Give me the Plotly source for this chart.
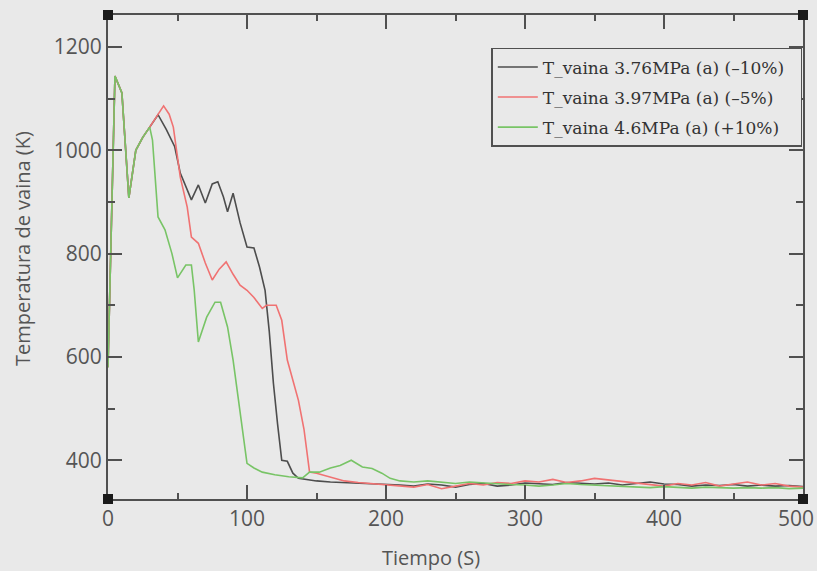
import plotly.graph_objects as go

# Tiempo (s) y temperatura de vaina (K)
t_376 = [0, 5, 10, 15, 20, 25, 30, 36, 42, 48, 52, 57, 60, 65, 70, 75, 79, 83, 86, 90,
         95, 100, 105, 109, 113, 116, 119, 122, 125, 129, 133, 137, 145,
         150, 160, 170, 180, 190, 200, 210, 220, 230, 240, 250, 260, 270, 280, 290, 300,
         310, 320, 330, 340, 350, 360, 370, 380, 390, 400, 410, 420, 430, 440, 450, 460,
         470, 480, 490, 500]
T_376 = [580, 1144, 1111, 908, 1000, 1025, 1045, 1069, 1040, 1007, 956, 925, 904, 933, 898, 935, 939, 910, 881, 917,
         860, 813, 811, 774, 729, 650, 549, 470, 400, 398, 375, 365, 362,
         360, 358, 357, 356, 355, 353, 352, 350, 354, 352, 348, 353, 355, 350, 352, 356,
         355, 353, 357, 355, 354, 356, 352, 355, 358, 354, 353, 350, 352, 351, 353, 350,
         352, 350, 351, 349]

t_397 = [0, 5, 10, 15, 20, 25, 30, 35, 40, 44, 47, 52, 57, 60, 65, 70, 75, 80, 85, 90,
         95, 100, 105, 111, 114, 121, 125, 129, 133, 137, 141, 145, 150,
         160, 170, 180, 190, 200, 210, 220, 230, 240, 250, 260, 270, 280, 290, 300,
         310, 320, 330, 340, 350, 360, 370, 380, 390, 400, 410, 420, 430, 440, 450, 460,
         470, 480, 490, 500]
T_397 = [580, 1144, 1111, 908, 1000, 1025, 1045, 1065, 1086, 1070, 1045, 948, 890, 832, 820, 782, 749, 770, 784, 760,
         739, 729, 715, 694, 700, 700, 671, 594, 555, 516, 460, 377, 375,
         368, 360, 357, 355, 352, 350, 348, 353, 345, 350, 355, 352, 357, 355, 360, 358,
         363, 357, 360, 365, 362, 358, 356, 352, 350, 355, 352, 357, 350, 354, 358, 352,
         355, 350, 348]

t_46 = [0, 5, 10, 15, 20, 25, 30, 32, 36, 41, 46, 50, 56, 60, 62, 65, 71, 77, 81, 86,
        90, 95, 100, 105, 111, 120, 130, 140, 145, 152, 160, 167, 175, 183, 190, 197,
        203, 210, 220, 230, 240, 250, 260, 270, 280, 290, 300, 310, 320, 330, 340, 350,
        360, 370, 380, 390, 400, 410, 420, 430, 440, 450, 460, 470, 480, 490, 500]
T_46 = [580, 1144, 1111, 908, 1000, 1025, 1045, 1020, 871, 846, 800, 753, 778, 778, 730, 629, 677, 706, 706, 658,
        594, 497, 394, 385, 377, 372, 368, 366, 377, 377, 385, 390, 400, 387, 384, 375,
        365, 360, 358, 360, 357, 355, 358, 356, 355, 353, 352, 350, 352, 355, 353, 352,
        350, 350, 348, 347, 349, 348, 346, 348, 347, 346, 347, 346, 347, 345, 346]

x_ticks = [0, 100, 200, 300, 400, 500]
y_ticks = [400, 600, 800, 1000, 1200]

series = [
    ("T_vaina 3.76MPa (a) (–10%)", t_376, T_376, "#4d4d4d"),
    ("T_vaina 3.97MPa (a) (–5%)", t_397, T_397, "#f07272"),
    ("T_vaina 4.6MPa (a) (+10%)", t_46, T_46, "#78c466"),
]

fig = go.Figure()
for i, (name, x, y, col) in enumerate(series):
    fig.add_trace(go.Scatter(x=x, y=y, mode="lines", name=name + "\u00a0\u00a0",
                             legendgroup=f"g{i}",
                             line=dict(color=col, width=1.6)))

bg = "#e9e9e9"
axcol = "#505050"
lblfont = dict(family="Open Sans", size=21, color="#555555")
common = dict(showgrid=False, zeroline=False, showline=True, linecolor=axcol, linewidth=2,
              mirror="ticks", ticks="inside", ticklen=14, tickwidth=1.5, tickcolor=axcol,
              ticklabeloverflow="allow", automargin=False, tickfont=lblfont)

# la ultima etiqueta (500) se pone aparte, pegada al borde derecho
fig.update_xaxes(range=[0, 500], tickvals=x_ticks,
                 ticktext=[str(v) for v in x_ticks[:-1]] + [""],
                 minor=dict(tickvals=[50, 150, 250, 350, 450], ticks="inside", ticklen=6,
                            tickcolor=axcol, tickwidth=1.5),
                 **common)
fig.update_yaxes(range=[325, 1262], tickvals=y_ticks,
                 minor=dict(tickvals=[500, 700, 900, 1100], ticks="inside", ticklen=7,
                            tickcolor=axcol, tickwidth=1.5),
                 **common)
fig.add_annotation(text=str(x_ticks[-1]), xref="x", yref="paper", x=x_ticks[-1], y=0,
                   xanchor="right", yanchor="middle", xshift=13, yshift=-19,
                   showarrow=False, font=lblfont)

# cuadrados negros en las esquinas
for cx, cy in [(0, 0), (0, 1), (1, 0), (1, 1)]:
    fig.add_shape(type="rect", xref="paper", yref="paper", xsizemode="pixel", ysizemode="pixel",
                  xanchor=cx, yanchor=cy, x0=-5, x1=5, y0=-5, y1=5,
                  fillcolor="#1a1a1a", line=dict(width=0))

fig.add_annotation(text="Tiempo (S)", xref="paper", yref="paper", x=0.465, y=-0.12,
                   xanchor="center", yanchor="middle", showarrow=False,
                   font=dict(family="Open Sans", size=20, color="#555555"))
fig.add_annotation(text="Temperatura de vaina (K)", xref="paper", yref="paper", x=-0.122, y=0.517,
                   textangle=-90, xanchor="center", yanchor="middle", showarrow=False,
                   font=dict(family="Open Sans", size=20, color="#555555"))

fig.update_layout(
    width=817, height=571,
    margin=dict(l=108, r=14, t=15, b=72),
    paper_bgcolor=bg, plot_bgcolor=bg,
    showlegend=True,
    legend=dict(x=0.999, y=0.932, xanchor="right", yanchor="top",
                bgcolor=bg, bordercolor=axcol, borderwidth=1.5,
                font=dict(family="DejaVu Serif", size=17, color="#333333"),
                itemwidth=40, traceorder="grouped", tracegroupgap=5),
)

fig.write_html("out.html", config={"displayModeBar": False},
               post_script="document.body.style.margin='0';")
